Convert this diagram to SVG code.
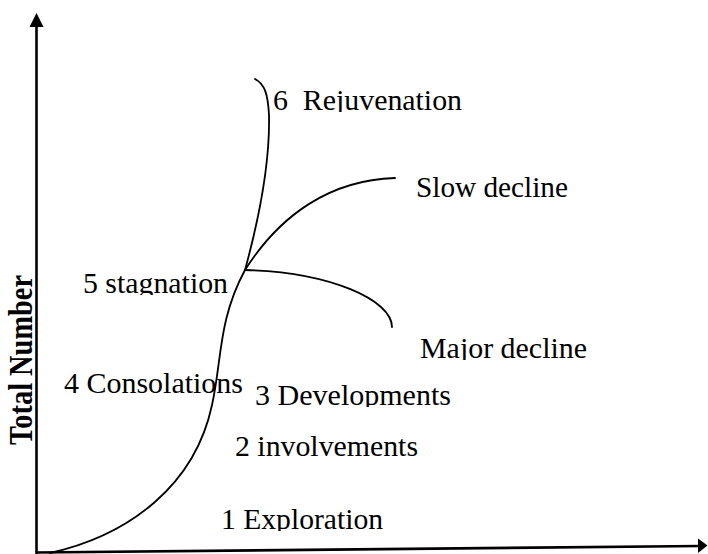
<svg xmlns="http://www.w3.org/2000/svg" width="708" height="554" viewBox="0 0 708 554">
<style>
.lbl{font-family:"Liberation Serif","Times New Roman",serif;font-size:30px;fill:#000;white-space:pre}
.ttl{font-family:"Liberation Serif","Times New Roman",serif;font-size:33px;font-weight:bold;fill:#000}
.curve{fill:none;stroke:#000;stroke-width:1.8;stroke-linecap:round}
.axis{fill:none;stroke:#000;stroke-width:2.6}
</style>
<defs>
<clipPath id="c6" clipPathUnits="userSpaceOnUse"><rect x="0" y="0" width="708" height="112"/></clipPath>
<clipPath id="c5" clipPathUnits="userSpaceOnUse"><rect x="0" y="0" width="708" height="295"/></clipPath>
<clipPath id="cM" clipPathUnits="userSpaceOnUse"><rect x="0" y="0" width="708" height="360"/></clipPath>
<clipPath id="c3" clipPathUnits="userSpaceOnUse"><rect x="0" y="0" width="708" height="407"/></clipPath>
<clipPath id="c1" clipPathUnits="userSpaceOnUse"><rect x="0" y="0" width="708" height="531"/></clipPath>
</defs>
<rect width="708" height="554" fill="#fff"/>
<g id="axes">
<line class="axis" x1="36.5" y1="554" x2="36.5" y2="26"/>
<polygon points="36.5,13 29.5,27 43.5,27" fill="#000"/>
<line class="axis" x1="37" y1="552.5" x2="700" y2="546"/>
<polygon points="707.5,545.5 698,538.5 698,553" fill="#000"/>
</g>
<g id="connectors">
<path class="curve" d="M50,553 C130,535 195,485 212,405 C222,360 218,320 245,270"/>
<path class="curve" d="M245,270 C260,215 270,160 269,115 C268,95 265,84 255,79"/>
<path class="curve" d="M245,270 C280,215 330,180 395,178"/>
<path class="curve" d="M245,270 C330,272 392,300 392,327"/>
</g>
<g id="n6"><text class="lbl" x="273" y="110" textLength="189" lengthAdjust="spacingAndGlyphs" clip-path="url(#c6)">6  Rejuvenation</text></g>
<g id="slow"><text class="lbl" x="416" y="197" textLength="152" lengthAdjust="spacingAndGlyphs">Slow decline</text></g>
<g id="n5"><text class="lbl" x="83" y="293" textLength="145" lengthAdjust="spacingAndGlyphs" clip-path="url(#c5)">5 stagnation</text></g>
<g id="major"><text class="lbl" x="420" y="358" textLength="167" lengthAdjust="spacingAndGlyphs" clip-path="url(#cM)">Major decline</text></g>
<g id="n4"><text class="lbl" x="64" y="393" textLength="179" lengthAdjust="spacingAndGlyphs">4 Consolations</text></g>
<g id="n3"><text class="lbl" x="255" y="405" textLength="196" lengthAdjust="spacingAndGlyphs" clip-path="url(#c3)">3 Developments</text></g>
<g id="n2"><text class="lbl" x="235" y="456" textLength="183" lengthAdjust="spacingAndGlyphs">2 involvements</text></g>
<g id="n1"><text class="lbl" x="221" y="529" textLength="162" lengthAdjust="spacingAndGlyphs" clip-path="url(#c1)">1 Exploration</text></g>
<g id="ylabel"><text class="ttl" transform="translate(32,445) rotate(-90)" textLength="170" lengthAdjust="spacingAndGlyphs">Total Number</text></g>
</svg>
